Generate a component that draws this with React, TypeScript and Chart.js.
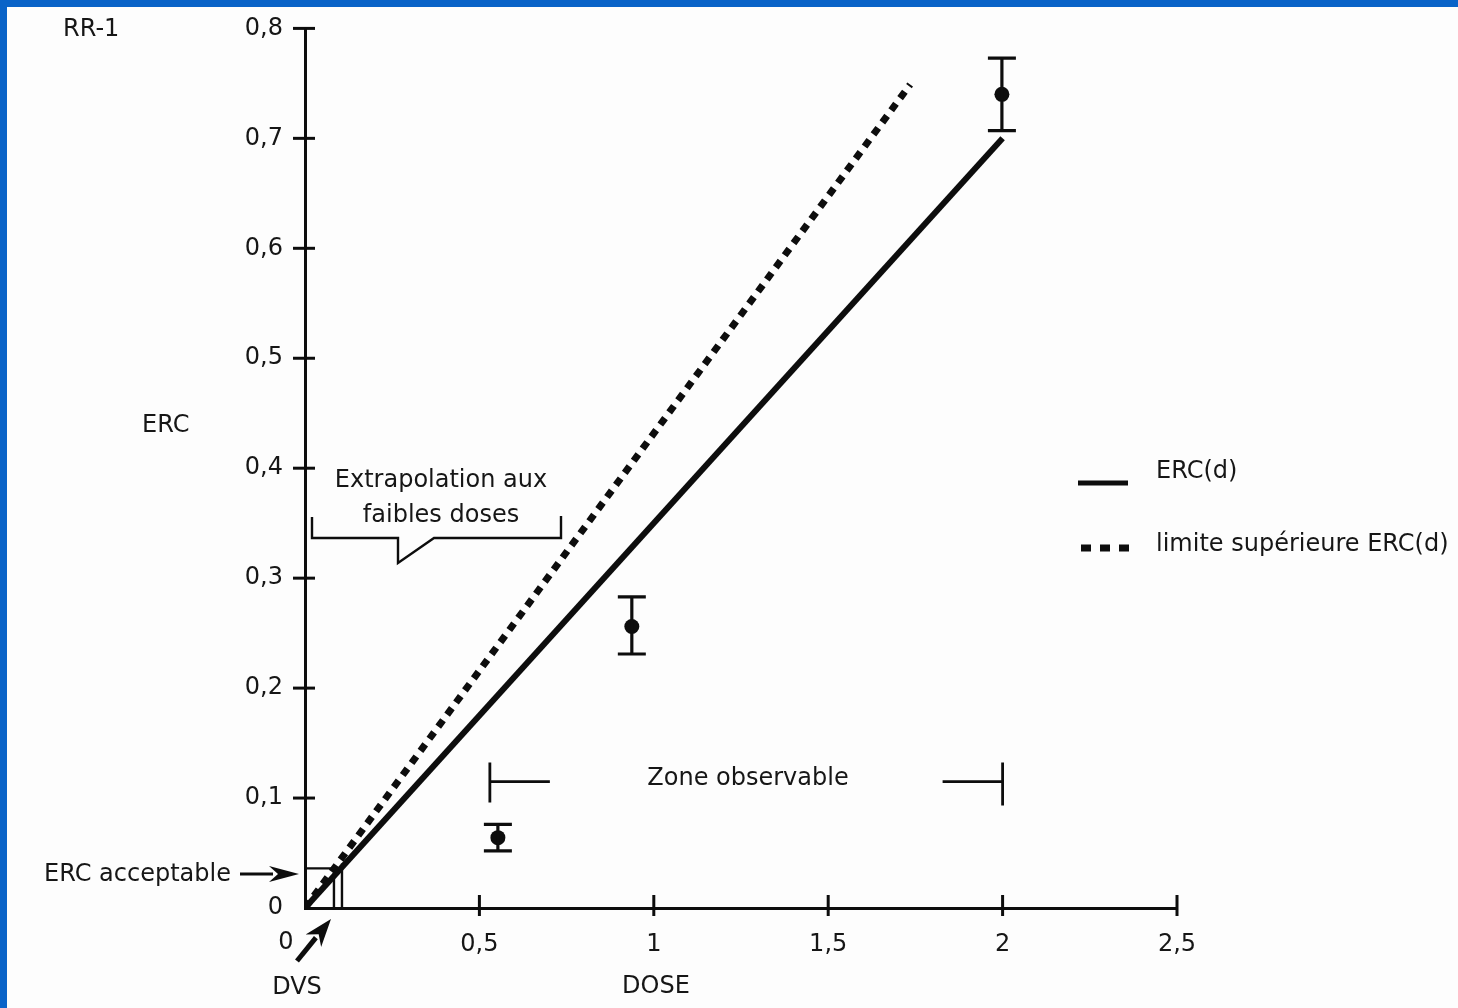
import { useEffect, useRef } from 'react';
import { Chart, registerables } from 'chart.js';

Chart.register(...registerables);

// ---- data ----
const xTickValues = [0, 0.5, 1, 1.5, 2, 2.5];
const yTickValues = [0, 0.1, 0.2, 0.3, 0.4, 0.5, 0.6, 0.7, 0.8];
const fitDose = [0, 2];
const fitErc = [0, 0.7];
const upperDose = [0, 1.735];
const upperErc = [0, 0.749];
const obsDose = [0.553, 0.937, 1.998];
const obsErc = [0.064, 0.256, 0.74];
const obsLow = [0.052, 0.231, 0.707];
const obsHigh = [0.076, 0.283, 0.773];
const ercAcceptable = 0.036;
const dvsFit = 0.106;
const dvsUpper = 0.083;
const zoneStart = 0.53;
const zoneEnd = 2.0;
const zoneLevel = 0.115;
const seriesLabels = ['ERC(d)', 'limite supérieure ERC(d)'];

const FONT = '"DejaVu Sans", sans-serif';
const INK = '#0d0d0d';
const TXT = '#161616';
const FS = 24;

const fmt = (v: number) => String(Number(v.toFixed(1))).replace('.', ',');

function arrow(ctx: CanvasRenderingContext2D, x1: number, y1: number, x2: number, y2: number, hl: number, hw: number) {
  const a = Math.atan2(y2 - y1, x2 - x1);
  const bx = x2 - hl * Math.cos(a);
  const by = y2 - hl * Math.sin(a);
  ctx.beginPath();
  ctx.moveTo(x1, y1);
  ctx.lineTo(bx + 4 * Math.cos(a), by + 4 * Math.sin(a));
  ctx.stroke();
  const nx = -Math.sin(a), ny = Math.cos(a);
  ctx.beginPath();
  ctx.moveTo(x2, y2);
  ctx.lineTo(bx + nx * hw, by + ny * hw);
  ctx.lineTo(bx + 0.3 * hl * Math.cos(a), by + 0.3 * hl * Math.sin(a));
  ctx.lineTo(bx - nx * hw, by - ny * hw);
  ctx.closePath();
  ctx.fill();
}

const decor = {
  id: 'decor',
  afterDatasetsDraw(chart: any) {
    const ctx: CanvasRenderingContext2D = chart.ctx;
    const xs = chart.scales.x;
    const ys = chart.scales.y;
    const X = (v: number) => xs.getPixelForValue(v);
    const Y = (v: number) => ys.getPixelForValue(v);
    ctx.save();
    ctx.strokeStyle = INK;
    ctx.fillStyle = INK;
    ctx.lineCap = 'butt';

    // error bars
    ctx.lineWidth = 3.2;
    obsDose.forEach((d, i) => {
      const px = X(d);
      ctx.beginPath();
      ctx.moveTo(px, Y(obsLow[i]));
      ctx.lineTo(px, Y(obsHigh[i]));
      ctx.moveTo(px - 14, Y(obsLow[i]));
      ctx.lineTo(px + 14, Y(obsLow[i]));
      ctx.moveTo(px - 14, Y(obsHigh[i]));
      ctx.lineTo(px + 14, Y(obsHigh[i]));
      ctx.stroke();
    });

    // crossing tick marks
    ctx.lineWidth = 3;
    const x0 = X(0);
    const y0 = Y(0);
    yTickValues.forEach((v) => {
      if (v === 0) return;
      ctx.beginPath();
      ctx.moveTo(x0 - 12, Y(v));
      ctx.lineTo(x0 + 10, Y(v));
      ctx.stroke();
    });
    xTickValues.forEach((v) => {
      if (v === 0) return;
      ctx.beginPath();
      ctx.moveTo(X(v), y0 - 13);
      ctx.lineTo(X(v), y0 + 8);
      ctx.stroke();
    });

    // acceptable ERC box
    ctx.lineWidth = 2.4;
    ctx.beginPath();
    ctx.moveTo(x0, Y(ercAcceptable));
    ctx.lineTo(X(dvsFit), Y(ercAcceptable));
    ctx.moveTo(X(dvsUpper), Y(ercAcceptable) + 3);
    ctx.lineTo(X(dvsUpper), y0);
    ctx.moveTo(X(dvsFit), Y(ercAcceptable) - 5);
    ctx.lineTo(X(dvsFit), y0);
    ctx.stroke();

    // zone observable bracket
    ctx.lineWidth = 2.8;
    const zy = Y(zoneLevel);
    ctx.beginPath();
    ctx.moveTo(X(zoneStart), zy - 19);
    ctx.lineTo(X(zoneStart), zy + 21);
    ctx.moveTo(X(zoneStart), zy);
    ctx.lineTo(X(zoneStart) + 60, zy);
    ctx.moveTo(X(zoneEnd), zy - 19);
    ctx.lineTo(X(zoneEnd), zy + 24);
    ctx.moveTo(X(zoneEnd), zy);
    ctx.lineTo(X(zoneEnd) - 60, zy);
    ctx.stroke();

    // extrapolation bracket
    ctx.lineWidth = 2.4;
    ctx.beginPath();
    ctx.moveTo(312, 517);
    ctx.lineTo(312, 538);
    ctx.lineTo(398, 538);
    ctx.lineTo(398, 563);
    ctx.lineTo(434, 538);
    ctx.lineTo(561, 538);
    ctx.lineTo(561, 516);
    ctx.stroke();

    // arrows
    ctx.lineWidth = 3;
    arrow(ctx, 240, 874, x0 - 6, 874, 30, 8);
    ctx.lineWidth = 5;
    arrow(ctx, 297, 961, 331, 919, 28, 10);

    // texts
    ctx.fillStyle = TXT;
    ctx.font = `${FS}px ${FONT}`;
    ctx.textBaseline = 'middle';
    ctx.textAlign = 'left';
    ctx.fillText('RR-1', 63, 30);
    ctx.fillText('ERC', 142, 426);
    ctx.fillText('ERC acceptable', 44, 875);
    ctx.textAlign = 'center';
    ctx.fillText('DOSE', 656, 987);
    ctx.fillText('DVS', 297, 988);
    ctx.fillText('0', 286, 943);
    ctx.fillText('Extrapolation aux', 441, 481);
    ctx.fillText('faibles doses', 441, 516);
    ctx.fillText('Zone observable', 748, 779);

    // legend
    ctx.textAlign = 'left';
    ctx.fillText(seriesLabels[0], 1156, 472);
    ctx.fillText(seriesLabels[1], 1156, 545);
    ctx.strokeStyle = INK;
    ctx.lineWidth = 5;
    ctx.beginPath();
    ctx.moveTo(1078, 483);
    ctx.lineTo(1128, 483);
    ctx.stroke();
    ctx.lineWidth = 7;
    ctx.setLineDash([10, 9]);
    ctx.beginPath();
    ctx.moveTo(1081, 548);
    ctx.lineTo(1129, 548);
    ctx.stroke();
    ctx.setLineDash([]);
    ctx.restore();
  },
};

export default function App() {
  const ref = useRef<HTMLCanvasElement | null>(null);
  useEffect(() => {
    if (!ref.current) return;
    const chart = new Chart(ref.current, {
      type: 'scatter',
      data: {
        datasets: [
          {
            label: seriesLabels[0],
            data: fitDose.map((d, i) => ({ x: d, y: fitErc[i] })),
            showLine: true,
            borderColor: INK,
            borderWidth: 6,
            pointRadius: 0,
            borderCapStyle: 'butt',
          },
          {
            label: seriesLabels[1],
            data: upperDose.map((d, i) => ({ x: d, y: upperErc[i] })),
            showLine: true,
            borderColor: INK,
            borderWidth: 7,
            borderDash: [8, 7],
            pointRadius: 0,
            borderCapStyle: 'butt',
          },
          {
            label: 'observations',
            data: obsDose.map((d, i) => ({ x: d, y: obsErc[i] })),
            showLine: false,
            pointRadius: 7.5,
            backgroundColor: INK,
            borderColor: INK,
            borderWidth: 0,
          },
        ],
      } as any,
      options: {
        animation: false,
        responsive: false,
        events: [],
        layout: { padding: { left: 0, top: 22, right: 281, bottom: 0 } },
        plugins: { legend: { display: false }, tooltip: { enabled: false } },
        scales: {
          x: {
            type: 'linear',
            min: 0,
            max: 2.5,
            afterFit: (s: any) => { s.height = 100; },
            afterBuildTicks: (s: any) => { s.ticks = xTickValues.map((v) => ({ value: v })); },
            grid: { display: false },
            border: { display: true, color: INK, width: 3 },
            ticks: {
              padding: 14,
              color: TXT,
              font: { family: FONT, size: FS },
              maxRotation: 0,
              autoSkip: false,
              callback: (v: any) => (Number(v) === 0 ? '' : fmt(Number(v))),
            },
          },
          y: {
            type: 'linear',
            min: 0,
            max: 0.8,
            afterFit: (s: any) => { s.width = 305; },
            afterBuildTicks: (s: any) => { s.ticks = yTickValues.map((v) => ({ value: v })); },
            grid: { display: false },
            border: { display: true, color: INK, width: 3 },
            ticks: {
              padding: 14,
              color: TXT,
              font: { family: FONT, size: FS },
              autoSkip: false,
              callback: (v: any) => fmt(Number(v)),
            },
          },
        },
      } as any,
      plugins: [decor],
    });
    return () => chart.destroy();
  }, []);

  return (
    <div style={{ position: 'fixed', left: 0, top: 0, width: 1458, height: 1008, background: '#0a63c8', overflow: 'hidden' }}>
      <div style={{ position: 'absolute', left: 7, top: 7, right: 0, bottom: 0, background: '#fdfdfd' }} />
      <canvas ref={ref} width={1458} height={1008} style={{ position: 'absolute', left: 0, top: 0, width: 1458, height: 1008 }} />
    </div>
  );
}
